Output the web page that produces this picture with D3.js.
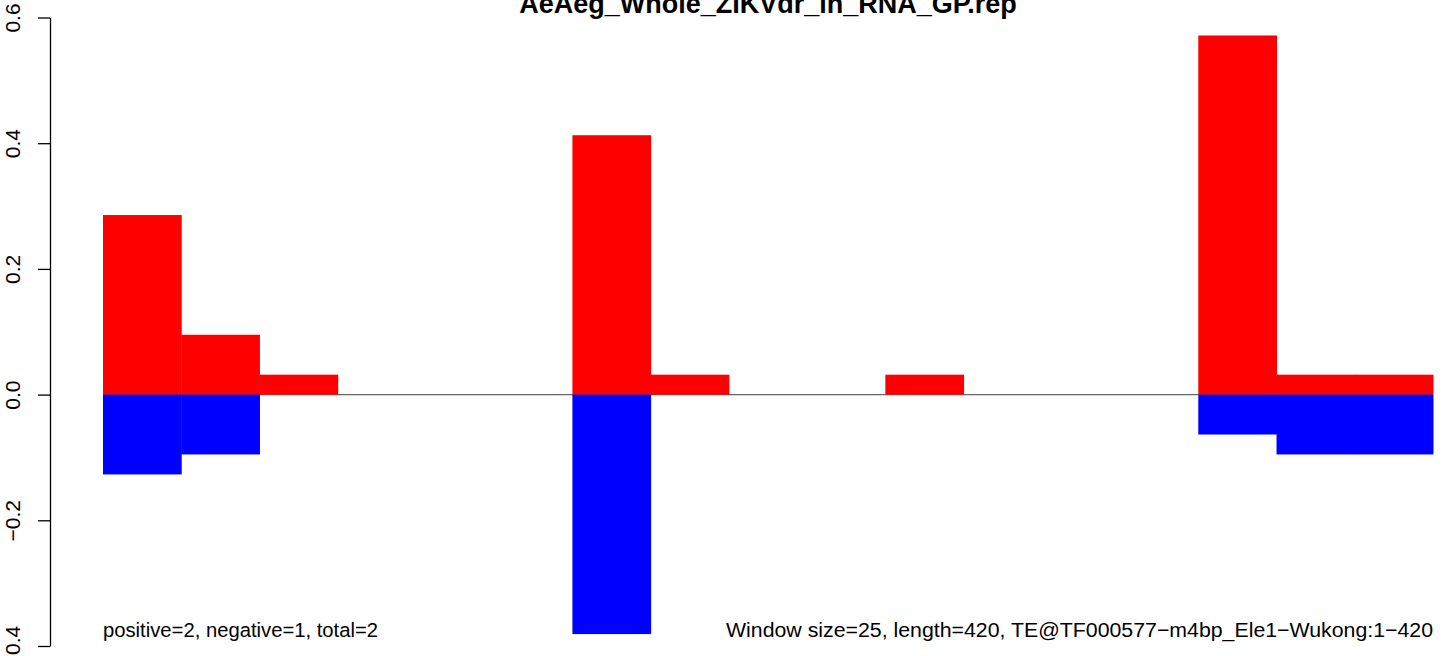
<!DOCTYPE html>
<html><head><meta charset="utf-8">
<script src="https://cdn.jsdelivr.net/npm/d3@7"></script>
<style>html,body{margin:0;padding:0;background:#fff;}svg{display:block;font-family:"Liberation Sans",Arial,sans-serif;}</style>
</head><body>
<svg id="c" width="1444" height="656"></svg>
<script>
const windowStarts = [0,25,50,75,100,125,150,175,200,225,250,275,300,325,350,375,400];
const windowSize = 25;
const positiveVals = [0.2857,0.0952,0.0317,0,0,0,0.4127,0.0317,0,0,0.0317,0,0,0,0.5714,0.0317,0.0317];
const negativeVals = [-0.127,-0.0952,0,0,0,0,-0.381,0,0,0,0,0,0,0,-0.0635,-0.0952,-0.0952];
const yTicks = [-0.4,-0.2,0.0,0.2,0.4,0.6];
const titleText = "AeAeg_Whole_ZIKVdr_in_RNA_GP.rep";
const leftNote = "positive=2, negative=1, total=2";
const rightNote = "Window size=25, length=420, TE@TF000577\u2212m4bp_Ele1\u2212Wukong:1\u2212420";

const svg = d3.select("#c");
const x = d3.scaleLinear().domain([0,425]).range([103,1433]);
const y = d3.scaleLinear().domain([-0.4,0.6]).range([646,17.5]);

// zero line
svg.append("line").attr("x1",x(0)).attr("x2",x(425)).attr("y1",y(0)).attr("y2",y(0))
  .attr("stroke","#666").attr("stroke-width",1.2);

const data = windowStarts.map((s,i)=>({s,p:positiveVals[i],n:negativeVals[i]}));
svg.selectAll("rect.pos").data(data.filter(d=>d.p>0)).join("rect").attr("class","pos")
  .attr("x",d=>x(d.s)).attr("width",d=>x(d.s+windowSize)-x(d.s)+0.5)
  .attr("y",d=>y(d.p)).attr("height",d=>y(0)-y(d.p)).attr("fill","#ff0000");
svg.selectAll("rect.neg").data(data.filter(d=>d.n<0)).join("rect").attr("class","neg")
  .attr("x",d=>x(d.s)).attr("width",d=>x(d.s+windowSize)-x(d.s)+0.5)
  .attr("y",y(0)).attr("height",d=>y(d.n)-y(0)).attr("fill","#0000ff");

// y axis
const ax = svg.append("g").attr("transform","translate(50,0)")
  .call(d3.axisLeft(y).tickValues(yTicks).tickSize(12).tickSizeOuter(0)
    .tickFormat(d=>d3.format(".1f")(d).replace("-","\u2212")));
ax.select(".domain").attr("stroke","#000").attr("stroke-width",1.3);
ax.selectAll(".tick line").attr("stroke","#000").attr("stroke-width",1.3);
ax.selectAll(".tick text").attr("x",null).attr("dy",null)
  .attr("transform","translate(-30,0) rotate(-90)")
  .attr("text-anchor","middle").attr("fill","#000")
  .style("font-size","21px").style("font-family","'Liberation Sans',Arial,sans-serif");

// title
svg.append("text").attr("x",(x(0)+x(425))/2).attr("y",13).attr("text-anchor","middle")
  .style("font-weight","bold").style("font-size","27px").text(titleText);

svg.append("text").attr("x",103).attr("y",637).style("font-size","20.5px")
  .attr("textLength",275).attr("lengthAdjust","spacingAndGlyphs").text(leftNote);
svg.append("text").attr("x",1433).attr("y",637).attr("text-anchor","end").style("font-size","20.5px")
  .attr("textLength",707).attr("lengthAdjust","spacingAndGlyphs").text(rightNote);
</script>
</body></html>
